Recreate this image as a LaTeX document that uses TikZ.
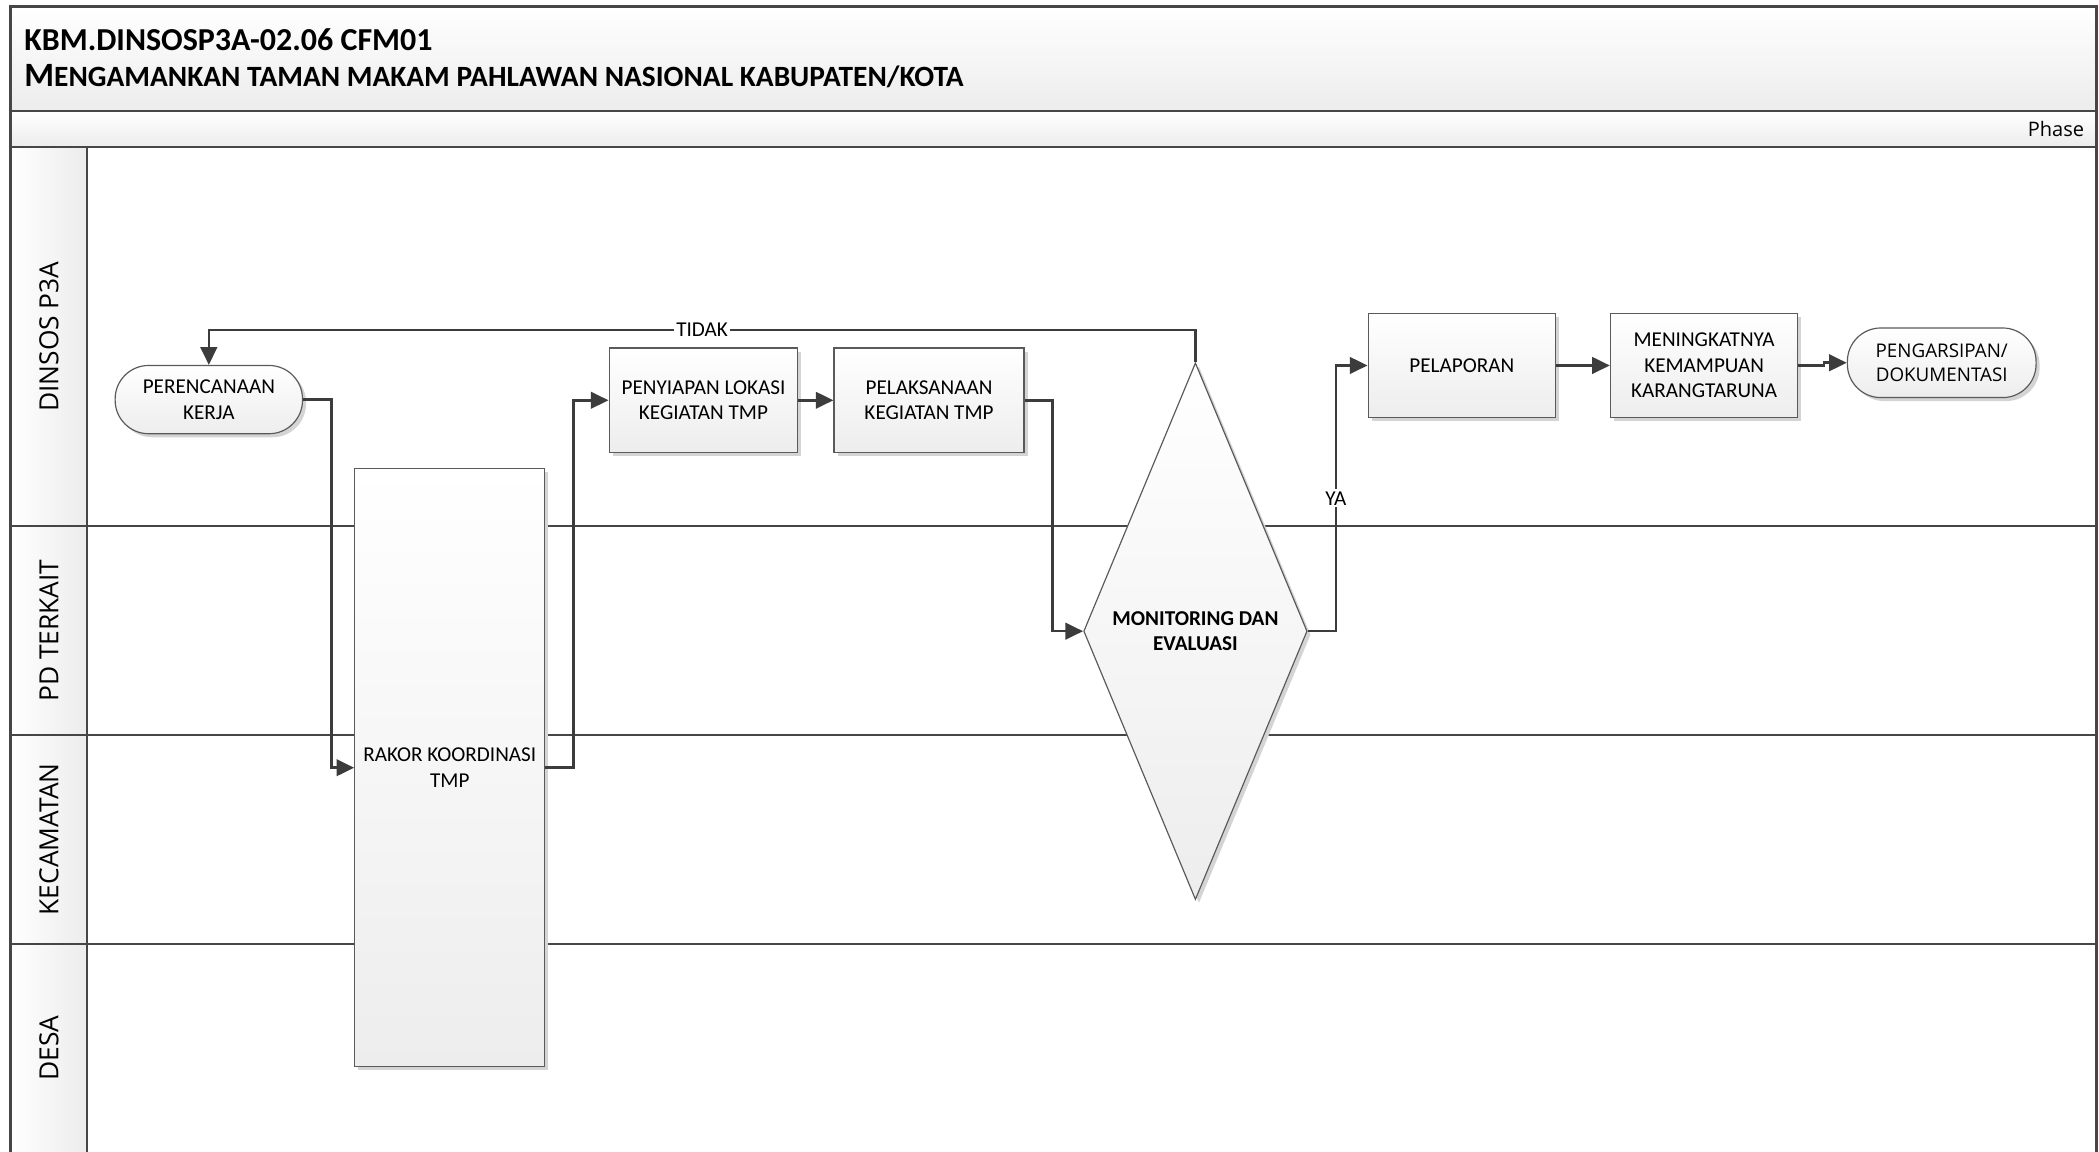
\documentclass[tikz,border=0pt]{standalone}
\usepackage{fontspec}
\setmainfont{Carlito}
\newfontfamily\lanefont{Open Sans}
\usepackage{tikz}
\usetikzlibrary{arrows.meta,shapes.geometric,shadows}
\definecolor{LineDark}{HTML}{3C3C3C}
\definecolor{FrameLine}{HTML}{464646}
\definecolor{BoxBorder}{HTML}{5A5A5A}
\definecolor{BoxShade}{HTML}{EDEDED}
\definecolor{BandShade}{HTML}{ECECEC}
\definecolor{ShadowGray}{HTML}{D4D4D4}
\tikzset{
	flowbox/.style={draw=BoxBorder, line width=0.5pt, top color=white, bottom color=BoxShade, align=center, inner sep=2pt, text=black, font=\fontsize{9}{10.8}\selectfont, drop shadow={shadow xshift=1.5pt, shadow yshift=-1.5pt, fill=ShadowGray, opacity=1}},
	terminal/.style={flowbox, rounded corners=0.5cm},
	decision/.style={flowbox, diamond, inner sep=0pt},
	flowarrow/.style={draw=LineDark, line width=1.1pt, -{Triangle[length=7.5pt,width=7pt]}},
	branchlabel/.style={fill=white, inner sep=1pt, text=black, font=\fontsize{9}{10}\selectfont},
	lanelabel/.style={rotate=90, text=black, font=\lanefont\fontsize{11.2}{13}\selectfont},
	laneline/.style={draw=FrameLine, line width=1pt}
}

\begin{document}
\begin{tikzpicture}[x=0.02cm,y=-0.02cm]
	\useasboundingbox (0,0) rectangle (1568,860);
	\fill[white] (0,0) rectangle (1568,860);

	\shade[top color=white, bottom color=BandShade] (8,5) rectangle (1566,83);
	\shade[top color=white, bottom color=BandShade] (8,83) rectangle (1566,110);
	\shade[left color=white, right color=BandShade] (8,110) rectangle (65,866);

	\foreach \y in {393,549,705} {
		\draw[laneline] (8,\y) -- (1566,\y);
	}
	\draw[laneline] (8,83) -- (1566,83);
	\draw[laneline] (8,110) -- (1566,110);
	\draw[laneline] (65,110) -- (65,866);
	\draw[laneline, line width=1.2pt] (8,866) -- (8,5) -- (1566,5) -- (1566,866);

	\node[anchor=west, font=\bfseries\fontsize{13.6}{15}\selectfont] (title) at (12,30) {KBM.DINSOSP3A-02.06 CFM01};
	\node[anchor=west, font=\bfseries\fontsize{14.5}{16}\selectfont] (subtitle) at (12,57) {M{\fontsize{12.5}{16}\selectfont ENGAMANKAN TAMAN MAKAM PAHLAWAN NASIONAL KABUPATEN/KOTA}};
	\node[anchor=east, font=\lanefont\fontsize{8.5}{10}\selectfont] (phase) at (1563,96.5) {Phase};

	\foreach \name/\mid/\title in {dinsos/251.5/DINSOS P3A, pd/471/PD TERKAIT, kec/627/KECAMATAN, desa/783/DESA} {
		\node[lanelabel] (lane-\name) at (36.5,\mid) {\title};
	}

	\node[terminal, minimum width=2.8cm, minimum height=1.02cm] (perenc) at (156,298.5) {PERENCANAAN\\KERJA};
	\node[flowbox, minimum width=2.84cm, minimum height=8.94cm] (rakor) at (336,573.5) {RAKOR KOORDINASI\\TMP};
	\node[flowbox, minimum width=2.82cm, minimum height=1.56cm] (penyiap) at (525.5,299) {PENYIAPAN LOKASI\\KEGIATAN TMP};
	\node[flowbox, minimum width=2.84cm, minimum height=1.56cm] (pelak) at (694,299) {PELAKSANAAN\\KEGIATAN TMP};
	\node[decision, minimum width=3.34cm, minimum height=8.02cm, label={[font=\bfseries\fontsize{9}{10.8}\selectfont, align=center]center:MONITORING DAN\\EVALUASI}] (monev) at (893,471.5) {};
	\node[flowbox, minimum width=2.8cm, minimum height=1.56cm] (pelapor) at (1092,273) {PELAPORAN};
	\node[flowbox, minimum width=2.8cm, minimum height=1.56cm] (mening) at (1273,273) {MENINGKATNYA\\KEMAMPUAN\\KARANGTARUNA};
	\node[terminal, minimum width=2.82cm, minimum height=1.04cm, font=\lanefont\fontsize{8}{10}\selectfont] (arsip) at (1450.5,271) {PENGARSIPAN/\\DOKUMENTASI};

	\foreach \from/\to in {perenc/rakor, rakor/penyiap, pelak/monev} {
		\draw[flowarrow] (\from.east) -- ++(21,0) |- (\to.west);
	}
	\foreach \from/\to in {penyiap/pelak, pelapor/mening} {
		\draw[flowarrow] (\from) -- (\to);
	}
	\draw[flowarrow] (monev.north) -- ++(0,-24) -| node[branchlabel, pos=0.25] {TIDAK} (perenc.north);
	\draw[flowarrow] (monev.east) -- ++(21,0) |- node[branchlabel, pos=0.25] {YA} (pelapor.west);
	\draw[flowarrow] (mening.east) -- ++(19,0) |- (arsip.west);
\end{tikzpicture}
\end{document}
